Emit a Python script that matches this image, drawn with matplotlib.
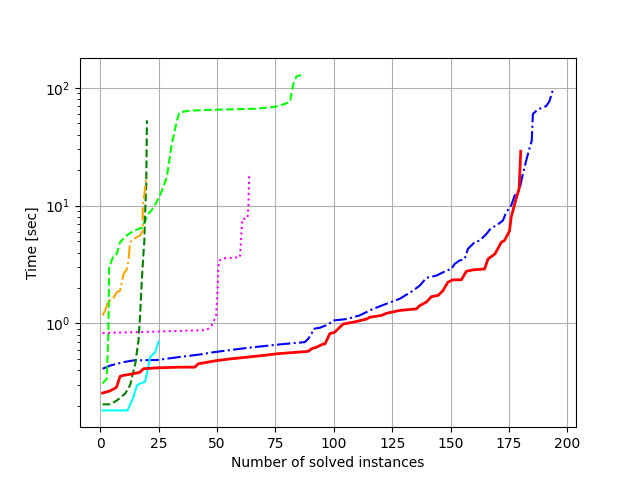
import matplotlib
matplotlib.use('Agg')
import matplotlib.pyplot as plt

# cactus curves: (instance index, time) knots
red_x = [1, 4, 6, 7, 8.5, 10, 14, 17, 18.5, 24, 34, 40.5, 42, 50, 55.5, 70, 75.5, 89, 90.5, 92.6, 95.4, 96.2,
         98.3, 100.4, 104, 108.3, 114, 115.4, 120.4, 122.5, 128.2, 135.3, 136.8, 139.6, 141.8, 144.6, 146.7,
         148.8, 151, 154.6, 156.7, 159.5, 164.5, 166, 169, 171.7, 173, 175.2, 175.9, 177.4, 178.4, 179.3, 180]
red_y = [0.257, 0.267, 0.28, 0.288, 0.356, 0.363, 0.374, 0.386, 0.413, 0.42, 0.426, 0.426, 0.455, 0.485, 0.50,
         0.536, 0.553, 0.58, 0.61, 0.63, 0.67, 0.67, 0.82, 0.845, 0.99, 1.025, 1.09, 1.13, 1.17, 1.22, 1.29,
         1.33, 1.42, 1.52, 1.69, 1.73, 1.9, 2.24, 2.35, 2.35, 2.77, 2.85, 2.9, 3.53, 3.9, 4.9, 5.05, 6.1,
         8.0, 10.3, 12.2, 13.8, 29]

blue_x = [1, 4.3, 10, 14.2, 24.2, 34.2, 42.7, 48.4, 62.7, 77, 87.6, 89, 90.5, 91.2, 94, 97.6, 99.7, 105.4,
          111, 116.8, 122.5, 128.2, 133.9, 136.8, 139.6, 143.9, 148.2, 150.3, 151.7, 153.8, 156, 157.4,
          160.3, 162.4, 165.3, 167.4, 169.5, 172.4, 173.8, 175.9, 177.4, 179.5, 180.9, 182.3, 183.8, 184.7,
          185.2, 187.3, 190.9, 192.3, 194]
blue_y = [0.413, 0.44, 0.47, 0.486, 0.49, 0.52, 0.546, 0.57, 0.62, 0.665, 0.695, 0.74, 0.82, 0.9, 0.92,
          0.98, 1.06, 1.09, 1.17, 1.33, 1.47, 1.62, 1.9, 2.1, 2.44, 2.55, 2.81, 2.9, 3.2, 3.42, 3.53, 4.3,
          4.9, 5.05, 5.75, 6.5, 6.75, 7.5, 8.8, 10.0, 12.2, 13.8, 18.5, 24, 31, 35.5, 60, 65.5, 70, 77, 100]

lime_x = [1, 2.8, 3.5, 3.8, 5.7, 7.1, 8.5, 11.4, 14.2, 17.8, 20.6, 22.8, 25.6, 28.5, 30.6, 32.8, 33.9, 38.5,
          47, 67, 74.8, 79, 81.2, 82.6, 84, 87]
lime_y = [0.31, 0.34, 0.82, 3.0, 3.77, 3.9, 4.9, 5.6, 6.1, 6.5, 8.5, 9.6, 12.2, 17.4, 33, 52.5, 62, 64,
          65, 66.5, 69, 73, 76, 107, 125, 130]

green_x = [1, 4.3, 7.1, 10.7, 12.8, 15, 16.4, 17.1, 17.8, 18.5, 18.9, 19.2, 19.7, 20]
green_y = [0.206, 0.206, 0.222, 0.254, 0.30, 0.455, 0.72, 1.21, 2.3, 3.9, 5.0, 8.5, 15, 53]

orange_x = [1, 2.1, 3.5, 5, 7.1, 8.5, 10, 11.4, 12.1, 12.8, 14.2, 17.1, 18.2, 18.2, 18.9, 19.7, 20]
orange_y = [1.17, 1.29, 1.57, 1.57, 1.84, 1.9, 2.63, 2.9, 3.42, 4.9, 5.2, 5.6, 6.1, 9.6, 12.5, 17.4, 17.6]

cyan_x = [1, 11.7, 14.2, 15.7, 17.1, 19.2, 20.6, 21.4, 23.5, 25]
cyan_y = [0.183, 0.183, 0.237, 0.298, 0.31, 0.32, 0.43, 0.52, 0.57, 0.70]

magenta_x = [1, 38.5, 45.6, 47.7, 48.4, 49.6, 50.1, 50.6, 51, 52.7, 59.8, 60.1, 60.5, 60.8, 63, 63.4, 63.8, 64]
magenta_y = [0.83, 0.87, 0.88, 0.96, 1.03, 1.17, 1.67, 3.0, 3.42, 3.57, 3.65, 4.4, 6.1, 7.7, 7.8, 9.6, 18.5, 19]

fig, ax = plt.subplots(figsize=(6.4, 4.8), dpi=100)
ax.plot(blue_x, blue_y, color='blue', linestyle='-.')
ax.plot(lime_x, lime_y, color='lime', linestyle='--')
ax.plot(green_x, green_y, color='green', linestyle='--')
ax.plot(orange_x, orange_y, color='orange', linestyle='-.')
ax.plot(cyan_x, cyan_y, color='cyan', linestyle='-')
ax.plot(magenta_x, magenta_y, color='magenta', linestyle=':')
ax.plot(red_x, red_y, color='red', linestyle='-', linewidth=2)
ax.set_yscale('log')
ax.grid(True)
ax.set_xlabel('Number of solved instances')
ax.set_ylabel('Time [sec]')
fig.savefig('out.png')
